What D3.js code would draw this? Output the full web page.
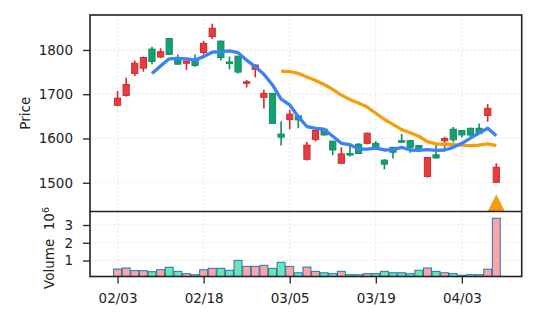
<!DOCTYPE html>
<html>
<head>
<meta charset="utf-8">
<script src="https://cdn.jsdelivr.net/npm/d3@7"></script>
<style>
body { margin: 0; background: #fff; }
text { font-family: "DejaVu Sans", sans-serif; }
</style>
</head>
<body>
<svg id="chart" width="537" height="322"></svg>
<script>
// daily bars
var opens  = [1675,1697,1747,1759,1802,1784,1826,1779,1770,1779,1794,1830,1820,1773,1786,1725,1756,1693,1702,1610,1643,1651,1553,1598,1621,1594,1544,1566,1587,1589,1589,1551,1580,1595,1595,1584,1514,1563,1595,1621,1618,1623,1623,1652,1501];
var highs  = [1707,1737,1776,1785,1807,1804,1827,1790,1776,1790,1820,1859,1821,1785,1787,1732,1768,1710,1703,1639,1665,1652,1592,1621,1622,1595,1580,1586,1590,1613,1594,1553,1581,1610,1596,1585,1558,1585,1604,1626,1619,1624,1634,1678,1544];
var lows   = [1673,1695,1741,1751,1768,1782,1789,1767,1755,1762,1790,1825,1776,1756,1747,1715,1738,1668,1633,1584,1621,1623,1550,1593,1607,1562,1543,1559,1565,1587,1576,1530,1555,1590,1568,1574,1512,1555,1578,1591,1602,1602,1610,1638,1500];
var closes = [1691,1722,1770,1783,1774,1796,1790,1768,1775,1765,1815,1849,1783,1771,1750,1728,1766,1702,1634,1603,1655,1642,1585,1618,1608,1574,1565,1563,1566,1612,1580,1542,1569,1593,1580,1576,1557,1556,1600,1597,1608,1608,1612,1668,1535];
// volume in millions
var volumes = [0.52,0.58,0.43,0.43,0.37,0.48,0.62,0.39,0.26,0.20,0.48,0.56,0.56,0.45,1.01,0.67,0.67,0.73,0.56,0.90,0.67,0.31,0.63,0.39,0.31,0.26,0.39,0.20,0.20,0.26,0.26,0.39,0.31,0.31,0.26,0.45,0.58,0.39,0.31,0.26,0.17,0.20,0.20,0.51,3.38];
// moving averages (short starts at bar 4, long at bar 19)
var maShort = [1747,1764,1780,1781,1780,1777,1785,1795,1796,1798,1794,1777,1762,1745,1721,1689,1676,1649,1627,1623,1621,1605,1589,1586,1576,1576,1578,1574,1575,1580,1574,1573,1575,1573,1574,1580,1589,1601,1612,1623,1606];
var maLong = [1752,1751,1747,1739,1731,1722,1711,1698,1688,1680,1671,1657,1643,1632,1620,1613,1605,1593,1588,1587,1586,1585,1584,1585,1588,1584];
var signalIdx = [44];
var signalPrice = [1455];
var tickIdx = [0, 10, 20, 30, 40];
var tickLabels = ["02/03", "02/18", "03/05", "03/19", "04/03"];
var priceTicks = [1500, 1600, 1700, 1800];
var volTicks = [1, 2, 3];

var x0 = 90, x1 = 521.7, yTop = 15, yMid = 211.5, yBot = 276.5;
var svg = d3.select("#chart");

var x = d3.scaleLinear().domain([-3.2, 46.95]).range([x0, x1]);
var y = d3.scaleLinear().domain([1435, 1879]).range([yMid, yTop]);
var yv = d3.scaleLinear().domain([0.1, 3.76]).range([yBot, yMid]);
var step = x(1) - x(0);

var bars = d3.range(opens.length).map(function(i) {
    return {i: i, o: opens[i], h: highs[i], l: lows[i], c: closes[i], v: volumes[i], up: closes[i] >= opens[i]};
});

var defs = svg.append("defs");
defs.append("clipPath").attr("id", "clipTop")
    .append("rect").attr("x", x0).attr("y", yTop).attr("width", x1 - x0).attr("height", yMid - yTop);
defs.append("clipPath").attr("id", "clipVol")
    .append("rect").attr("x", x0).attr("y", yMid).attr("width", x1 - x0).attr("height", yBot - yMid);

// grid
var grid = svg.append("g")
    .attr("stroke", "#e2e2e2")
    .attr("stroke-width", 1.2)
    .attr("stroke-dasharray", "1.5,2.5");
grid.selectAll(".gp").data(priceTicks).enter().append("line")
    .attr("x1", x0).attr("x2", x1)
    .attr("y1", function(d) { return y(d); }).attr("y2", function(d) { return y(d); });
grid.selectAll(".gv").data(volTicks).enter().append("line")
    .attr("x1", x0).attr("x2", x1)
    .attr("y1", function(d) { return yv(d); }).attr("y2", function(d) { return yv(d); });
grid.selectAll(".gx").data(tickIdx).enter().append("line")
    .attr("x1", function(d) { return x(d); }).attr("x2", function(d) { return x(d); })
    .attr("y1", yTop).attr("y2", yBot);

// volume
svg.append("g").attr("clip-path", "url(#clipVol)")
    .selectAll("rect").data(bars).enter().append("rect")
    .attr("x", function(d) { return x(d.i) - step * 0.46; })
    .attr("width", step * 0.92)
    .attr("y", function(d) { return yv(d.v); })
    .attr("height", function(d) { return yBot - yv(d.v) + 2; })
    .attr("fill", function(d) { return d.up ? "#ffa3a3" : "#6ce4b4"; })
    .attr("stroke", "#1f77b4")
    .attr("stroke-width", 1);

// candles
var plot = svg.append("g").attr("clip-path", "url(#clipTop)");
var candle = plot.selectAll(".candle").data(bars).enter().append("g");
candle.append("line")
    .attr("x1", function(d) { return x(d.i); }).attr("x2", function(d) { return x(d.i); })
    .attr("y1", function(d) { return y(d.h); }).attr("y2", function(d) { return y(d.l); })
    .attr("stroke", function(d) { return d.up ? "#d8282c" : "#0b8f63"; })
    .attr("stroke-width", 1.6);
candle.append("rect")
    .attr("x", function(d) { return x(d.i) - step * 0.36; })
    .attr("width", step * 0.72)
    .attr("y", function(d) { return y(Math.max(d.o, d.c)); })
    .attr("height", function(d) { return Math.max(1.5, Math.abs(y(d.o) - y(d.c))); })
    .attr("fill", function(d) { return d.up ? "#e23e40" : "#15a074"; })
    .attr("stroke", function(d) { return d.up ? "#d8282c" : "#0b8f63"; })
    .attr("stroke-width", 1);

// moving averages
var line = d3.line().x(function(d) { return x(d[0]); }).y(function(d) { return y(d[1]); });
plot.append("path")
    .datum(maLong.map(function(v, k) { return [k + 19, v]; }))
    .attr("d", line).attr("fill", "none")
    .attr("stroke", "#f59e0b").attr("stroke-width", 3.3).attr("stroke-linejoin", "round");
plot.append("path")
    .datum(maShort.map(function(v, k) { return [k + 4, v]; }))
    .attr("d", line).attr("fill", "none")
    .attr("stroke", "#3b82f6").attr("stroke-width", 3.3).attr("stroke-linejoin", "round");

// signal marker
plot.selectAll(".sig").data(signalIdx).enter().append("path")
    .attr("d", function(d, k) {
        var cx = x(d), cy = y(signalPrice[k]), r = 8.5;
        var p = d3.path();
        p.moveTo(cx, cy - r); p.lineTo(cx + r, cy + r); p.lineTo(cx - r, cy + r); p.closePath();
        return p.toString();
    })
    .attr("fill", "#f59e0b");

// axes
function styleAxis(g) {
    g.select(".domain").remove();
    g.selectAll(".tick line").attr("stroke", "#222").attr("stroke-width", 1.3);
    g.selectAll(".tick text").attr("fill", "#222").attr("font-size", 13.5).attr("font-family", "DejaVu Sans");
}
svg.append("g").attr("transform", "translate(" + x0 + ",0)")
    .call(d3.axisLeft(y).tickValues(priceTicks).tickSize(7).tickPadding(10).tickFormat(d3.format("d")))
    .call(styleAxis);
svg.append("g").attr("transform", "translate(" + x0 + ",0)")
    .call(d3.axisLeft(yv).tickValues(volTicks).tickSize(7).tickPadding(10).tickFormat(d3.format("d")))
    .call(styleAxis);
svg.append("g").attr("transform", "translate(0," + yBot + ")")
    .call(d3.axisBottom(x).tickValues(tickIdx).tickSize(7).tickPadding(10).tickFormat(function(d, k) { return tickLabels[k]; }))
    .call(styleAxis);

// frames
svg.append("rect").attr("x", x0).attr("y", yTop).attr("width", x1 - x0).attr("height", yBot - yTop)
    .attr("fill", "none").attr("stroke", "#222").attr("stroke-width", 1.6);
svg.append("line").attr("x1", x0).attr("x2", x1).attr("y1", yMid).attr("y2", yMid)
    .attr("stroke", "#222").attr("stroke-width", 1.6);

// labels
svg.append("text").attr("transform", "translate(30," + (yTop + yMid) / 2 + ") rotate(-90)")
    .attr("text-anchor", "middle").attr("font-size", 13.5).attr("fill", "#222")
    .text("Price");
var vl = svg.append("text").attr("transform", "translate(54,248) rotate(-90)")
    .attr("text-anchor", "middle").attr("font-size", 13.5).attr("fill", "#222");
vl.append("tspan").text("Volume\u00a0\u00a010");
vl.append("tspan").attr("dy", "-0.5em").attr("font-size", 9.5).text("6");
</script>
</body>
</html>
